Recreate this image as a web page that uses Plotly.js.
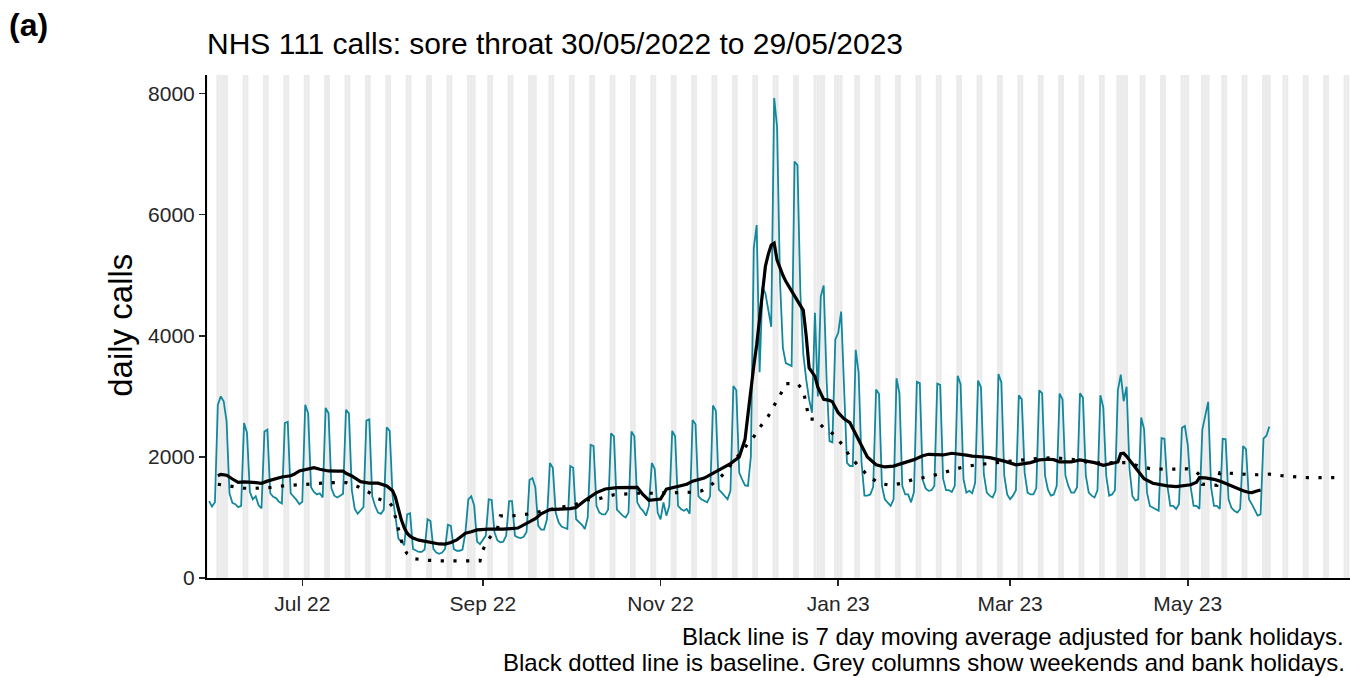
<!DOCTYPE html>
<html><head><meta charset="utf-8">
<script src="https://cdn.plot.ly/plotly-3.0.1.min.js"></script>
<style>html,body{margin:0;padding:0;background:#fff;}#chart{width:1350px;height:678px;}</style>
</head><body><div id="chart"></div>
<script>
// ---- data ----
const startDate = '2022-05-30';
const dailyCalls = [
 1270,1180,1250,2860,3000,2920,2590,
 1400,1240,1220,1170,1190,2560,2400,
 1420,1300,1350,1200,1150,2420,2450,
 1400,1340,1320,1260,1230,2560,2580,
 1400,1350,1290,1220,1260,2860,2720,
 1500,1420,1380,1400,1330,2810,2720,
 1480,1360,1330,1360,1390,2780,2720,
 1450,1140,1060,1110,1170,2600,2620,
 1350,1190,1080,1060,1130,2490,2430,
 1350,1000,650,600,540,1050,1070,
 480,450,430,430,470,970,940,
 480,420,400,420,480,880,860,
 480,450,450,470,750,1300,1350,
 1200,600,560,620,700,1300,1290,
 750,620,590,600,700,1270,1270,
 700,670,660,680,760,1620,1650,
 1500,860,800,800,970,1900,1820,
 1080,920,850,830,810,1850,1820,
 970,930,880,810,1000,2200,2180,
 1190,1080,1050,1050,1130,2390,2340,
 1130,1080,1030,1000,1080,2420,2340,
 1250,1160,1110,1030,1190,1900,1800,
 1080,970,1250,1030,1190,2430,2340,
 1190,1140,1110,1140,1060,2610,2540,
 1350,1300,1270,1250,1350,2850,2760,
 1460,1410,1360,1300,1440,3170,3100,
 1740,1630,1530,1520,2000,5450,5830,
 3400,4800,4700,4450,4150,7930,7450,
 4900,3800,3550,3520,3500,6880,6820,
 4700,3700,3280,2950,2730,4380,3000,
 4650,4830,3280,2260,2240,3940,4050,
 4400,3000,1900,1850,1850,3770,3390,
 1900,1360,1360,1380,1500,3115,3040,
 1520,1300,1250,1190,1300,3300,3050,
 1520,1380,1380,1250,1420,3240,3220,
 1620,1480,1440,1450,1520,3210,3190,
 1640,1450,1450,1420,1520,3340,3200,
 1630,1410,1440,1400,1570,3260,3150,
 1710,1410,1360,1330,1440,3370,3230,
 1690,1380,1300,1360,1450,3020,2950,
 1740,1410,1380,1380,1480,3100,3050,
 1690,1460,1360,1380,1520,3045,2950,
 1690,1520,1410,1410,1500,3050,2980,
 1690,1410,1360,1330,1450,3020,2820,
 1690,1360,1380,1450,3100,3360,2920,
 3160,1800,1350,1280,1300,2650,2460,
 1410,1190,1160,1140,1110,2310,2300,
 1520,1190,1190,1140,1220,2480,2510,
 2200,1500,1190,1190,1140,2450,2680,
 2910,1500,1190,1190,1140,2300,2290,
 1300,1160,1110,1080,1140,2180,2130,
 1300,1220,1110,1030,1050,2300,2350,
 2500
];
const maDates = ['2022-06-02','2022-06-03','2022-06-05','2022-06-06','2022-06-07','2022-06-09','2022-06-11','2022-06-14','2022-06-17','2022-06-19','2022-06-22','2022-06-24','2022-06-27','2022-06-28','2022-06-30','2022-07-02','2022-07-04','2022-07-05','2022-07-07','2022-07-10','2022-07-13','2022-07-15','2022-07-16','2022-07-18','2022-07-21','2022-07-24','2022-07-27','2022-07-30','2022-08-01','2022-08-02','2022-08-03','2022-08-04','2022-08-05','2022-08-06','2022-08-07','2022-08-08','2022-08-10','2022-08-14','2022-08-17','2022-08-19','2022-08-21','2022-08-23','2022-08-25','2022-08-26','2022-08-28','2022-08-30','2022-09-03','2022-09-08','2022-09-13','2022-09-16','2022-09-19','2022-09-21','2022-09-24','2022-10-01','2022-10-03','2022-10-06','2022-10-10','2022-10-13','2022-10-17','2022-10-24','2022-10-26','2022-10-28','2022-10-30','2022-11-01','2022-11-03','2022-11-07','2022-11-10','2022-11-12','2022-11-16','2022-11-18','2022-11-21','2022-11-25','2022-11-28','2022-11-30','2022-12-01','2022-12-02','2022-12-03','2022-12-04','2022-12-05','2022-12-06','2022-12-07','2022-12-08','2022-12-09','2022-12-10','2022-12-11','2022-12-13','2022-12-14','2022-12-17','2022-12-19','2022-12-20','2022-12-21','2022-12-22','2022-12-23','2022-12-24','2022-12-25','2022-12-27','2022-12-29','2022-12-30','2023-01-01','2023-01-03','2023-01-05','2023-01-08','2023-01-11','2023-01-14','2023-01-17','2023-01-20','2023-01-24','2023-01-27','2023-01-30','2023-02-01','2023-02-06','2023-02-09','2023-02-14','2023-02-16','2023-02-20','2023-02-22','2023-02-27','2023-03-03','2023-03-08','2023-03-11','2023-03-14','2023-03-16','2023-03-18','2023-03-22','2023-03-25','2023-03-30','2023-04-02','2023-04-05','2023-04-07','2023-04-08','2023-04-09','2023-04-10','2023-04-12','2023-04-14','2023-04-16','2023-04-19','2023-04-24','2023-04-27','2023-04-29','2023-05-02','2023-05-04','2023-05-05','2023-05-07','2023-05-10','2023-05-12','2023-05-14','2023-05-17','2023-05-20','2023-05-22','2023-05-23','2023-05-25','2023-05-26'];
const maValues = [1690,1712,1697,1660,1635,1578,1587,1580,1565,1600,1635,1669,1688,1708,1768,1788,1806,1823,1797,1768,1765,1765,1729,1686,1592,1567,1566,1521,1440,1330,1143,960,830,740,690,660,625,590,562,559,585,628,700,740,765,795,806,806,825,900,980,1060,1130,1146,1163,1280,1410,1470,1493,1498,1375,1284,1295,1305,1468,1512,1548,1600,1650,1705,1782,1890,2000,2290,2700,3150,3500,3850,4300,4800,5150,5350,5500,5530,5250,5000,4900,4660,4500,4420,4000,3470,3400,3330,3150,2950,2935,2910,2730,2630,2565,2290,2000,1870,1834,1848,1906,1955,2018,2043,2032,2060,2030,2012,1999,1988,1930,1870,1906,1950,1961,1955,1917,1917,1950,1906,1862,1890,1917,2054,2060,2010,1890,1750,1640,1565,1521,1510,1525,1540,1580,1658,1655,1630,1600,1560,1494,1440,1412,1411,1440,1455];
const baselineDates = ['2022-06-02','2022-06-06','2022-06-11','2022-06-15','2022-06-20','2022-06-24','2022-06-28','2022-07-03','2022-07-07','2022-07-11','2022-07-16','2022-07-20','2022-07-24','2022-07-27','2022-07-31','2022-08-01','2022-08-02','2022-08-03','2022-08-04','2022-08-05','2022-08-06','2022-08-08','2022-08-13','2022-08-17','2022-08-31','2022-09-01','2022-09-03','2022-09-06','2022-09-07','2022-09-11','2022-09-16','2022-09-20','2022-09-29','2022-10-03','2022-10-07','2022-10-11','2022-10-16','2022-10-20','2022-10-24','2022-10-29','2022-11-06','2022-11-11','2022-11-15','2022-11-19','2022-11-22','2022-11-25','2022-11-30','2022-12-03','2022-12-05','2022-12-08','2022-12-10','2022-12-12','2022-12-14','2022-12-18','2022-12-20','2022-12-21','2022-12-22','2022-12-24','2022-12-27','2022-12-29','2022-12-31','2023-01-03','2023-01-05','2023-01-08','2023-01-11','2023-01-15','2023-01-19','2023-01-23','2023-01-27','2023-02-01','2023-02-05','2023-02-09','2023-02-13','2023-02-18','2023-02-22','2023-02-26','2023-03-03','2023-03-07','2023-03-11','2023-03-16','2023-03-20','2023-03-24','2023-03-29','2023-04-03','2023-04-10','2023-04-14','2023-04-18','2023-04-23','2023-04-27','2023-05-01','2023-05-04','2023-05-05','2023-05-06','2023-05-11','2023-05-12','2023-05-16','2023-05-21','2023-05-25','2023-05-29','2023-06-03','2023-06-07','2023-06-11','2023-06-16','2023-06-21','2023-06-23'];
const baselineValues = [1548,1520,1482,1482,1495,1520,1535,1543,1565,1576,1576,1510,1411,1312,1235,1180,1000,800,620,480,400,320,292,284,284,465,647,817,1026,1026,1053,1091,1185,1218,1292,1311,1375,1394,1400,1400,1411,1416,1438,1560,1685,1861,2169,2334,2483,2675,2851,3016,3210,3210,3100,2850,2625,2625,2480,2436,2340,2169,2005,1852,1698,1563,1532,1566,1632,1670,1725,1783,1835,1873,1895,1920,1940,1962,1978,1987,1967,1950,1900,1907,1907,1852,1808,1797,1796,1803,1750,1700,1550,1532,1741,1724,1713,1705,1715,1686,1669,1658,1658,1658,1658];
const bankHolidays = ['2022-06-02','2022-06-03','2022-08-29','2022-09-19','2022-12-26','2022-12-27','2023-01-02','2023-04-07','2023-04-10','2023-05-01','2023-05-08','2023-05-29'];
const tickDates = ['2022-07-01','2022-09-01','2022-11-01','2023-01-01','2023-03-01','2023-05-01'];
const tickLabels = ['Jul 22','Sep 22','Nov 22','Jan 23','Mar 23','May 23'];
const yTickValues = [0,2000,4000,6000,8000];
const titleText = 'NHS 111 calls: sore throat 30/05/2022 to 29/05/2023';
const captionLines = ['Black line is 7 day moving average adjusted for bank holidays.','Black dotted line is baseline. Grey columns show weekends and bank holidays.'];

// ---- helpers ----
function addDays(iso, n){ return new Date(Date.parse(iso+'T00:00:00Z') + n*86400000).toISOString().slice(0,10); }
const dailyDates = dailyCalls.map((_, i) => addDays(startDate, i));

const xRange = ['2022-05-29 06:43','2023-06-25 16:48'];
const shapes = [];
for (let i = 0; ; i++) {
  const d = addDays('2022-05-28', i);
  if (d > '2023-06-26') break;
  const dow = new Date(d+'T00:00:00Z').getUTCDay();
  if (dow === 0 || dow === 6 || bankHolidays.includes(d)) {
    shapes.push({type:'rect', xref:'x', yref:'paper', x0: addDays(d,-1)+' 12:00', x1: d+' 12:00', y0:0, y1:1,
      fillcolor:'#ebebeb', line:{width:0}, layer:'below'});
  }
}

const FONT = 'Liberation Sans, Arial, Helvetica, sans-serif';
const traces = [
  {x: dailyDates, y: dailyCalls, type:'scatter', mode:'lines', line:{color:'#13889c', width:1.8}, hoverinfo:'skip'},
  {x: baselineDates, y: baselineValues, type:'scatter', mode:'lines', line:{color:'#000', width:3.2, dash:'3.2px,9.5px'}, hoverinfo:'skip'},
  {x: maDates, y: maValues, type:'scatter', mode:'lines', line:{color:'#000', width:3.2}, hoverinfo:'skip'}
];
const W = 1350, H = 678, L = 207, T = 75, B = 99.5;
const pw = W - L, ph = H - T - B;
const px = v => (v - L)/pw, py = v => (H - B - v)/ph;
const tickColor = '#262626';

const layout = {
  width: W, height: H, showlegend:false, hovermode:false,
  paper_bgcolor:'#fff', plot_bgcolor:'rgba(0,0,0,0)',
  margin:{l:L, r:0, t:T, b:B, pad:0},
  font:{family:FONT, color:'#000'},
  title:{text:titleText, font:{size:30, family:FONT, color:'#000'}, xref:'container', yref:'container', x:207/W, xanchor:'left', y:1-43/H, yanchor:'middle'},
  xaxis:{type:'date', range:xRange, tickvals:tickDates, ticktext:tickLabels, showgrid:false, zeroline:false,
    showline:true, linecolor:'#000', linewidth:2, ticks:'outside', ticklen:6, tickwidth:1.5, tickcolor:tickColor,
    tickfont:{size:21, family:FONT, color:tickColor}},
  yaxis:{range:[0,8308], tickvals:yTickValues, tickformat:'d', showgrid:false, zeroline:false,
    showline:true, linecolor:'#000', linewidth:2, ticks:'outside', ticklen:6, tickwidth:1.5, tickcolor:tickColor,
    tickfont:{size:21, family:FONT, color:tickColor}},
  shapes: shapes,
  annotations:[
    {text:'<b>(a)</b>', xref:'paper', yref:'paper', x:px(7), y:py(25), xanchor:'left', yanchor:'middle', showarrow:false, font:{size:32, family:FONT, color:'#000'}},
    {text:'daily calls', xref:'paper', yref:'paper', x:px(121), y:py(326), xanchor:'center', yanchor:'middle', textangle:-90, showarrow:false, font:{size:33, family:FONT, color:'#000'}},
    {text:captionLines[0], xref:'paper', yref:'paper', x:1, y:py(637), xanchor:'right', yanchor:'middle', xshift:-4, showarrow:false, font:{size:24, family:FONT, color:'#000'}},
    {text:captionLines[1], xref:'paper', yref:'paper', x:1, y:py(663), xanchor:'right', yanchor:'middle', xshift:-3, showarrow:false, font:{size:24, family:FONT, color:'#000'}}
  ]
};
Plotly.newPlot('chart', traces, layout, {displayModeBar:false, staticPlot:true});
</script>
</body></html>
